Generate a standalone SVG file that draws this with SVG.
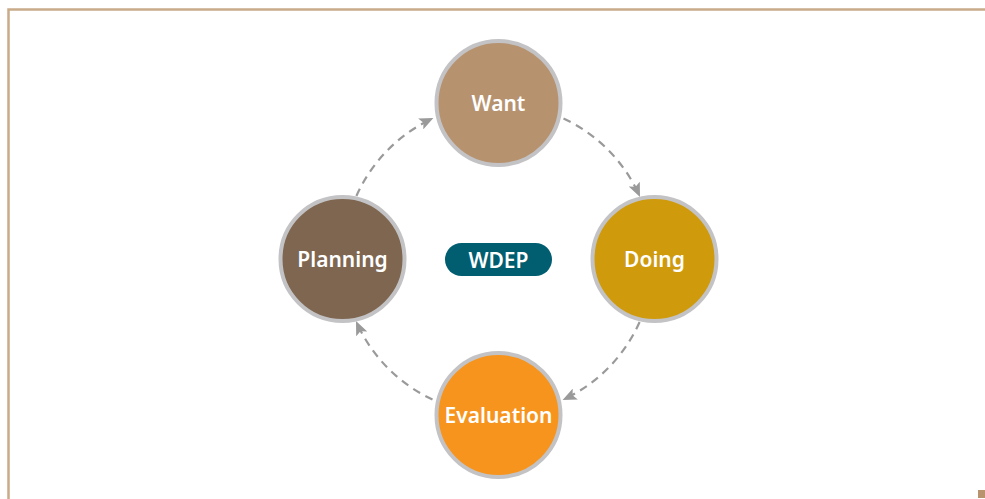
<svg xmlns="http://www.w3.org/2000/svg" width="985" height="499" viewBox="0 0 985 499">
<style>
.frame{fill:none;stroke:#c9ab8a;stroke-width:2.5}
.node{stroke:#c3c3c5;stroke-width:4}
.lbl{fill:#ffffff;font-family:"Noto Sans","Open Sans",sans-serif;font-weight:600;font-size:21px;text-anchor:middle;dominant-baseline:central}
.edge{fill:none;stroke:#9a9a9a;stroke-width:2.2;stroke-dasharray:8 6;marker-end:url(#ah)}
</style>
<defs>
<marker id="ah" viewBox="0 0 14 12" refX="13" refY="6" markerWidth="14" markerHeight="12" markerUnits="userSpaceOnUse" orient="auto">
<path d="M0,0 L14,6 L0,12 L3,6 Z" fill="#9a9a9a"/>
</marker>
</defs>
<rect width="985" height="499" fill="#ffffff"/>
<path class="frame" d="M8.5,499 V9.5 H985"/>
<rect x="978" y="490" width="7" height="8" fill="#b9926e"/>
<g id="connectors">
<path class="edge" d="M563.5,118.5 A155,155 0 0 1 639.6,196"/>
<path class="edge" d="M639.6,322 A155,155 0 0 1 563.5,399.5"/>
<path class="edge" d="M432.5,399.5 A155,155 0 0 1 356.4,322"/>
<path class="edge" d="M356.4,196 A155,155 0 0 1 432.5,118.5"/>
</g>
<g id="want"><circle class="node" cx="498.5" cy="103" r="62" fill="#b6926f"/><text class="lbl" x="498.5" y="103">Want</text></g>
<g id="doing"><circle class="node" cx="654.5" cy="259" r="62" fill="#cf9a0c"/><text class="lbl" x="654.5" y="259">Doing</text></g>
<g id="evaluation"><circle class="node" cx="498.5" cy="415" r="62" fill="#f7941d"/><text class="lbl" x="498.5" y="415">Evaluation</text></g>
<g id="planning"><circle class="node" cx="342.5" cy="259" r="62" fill="#7e6650"/><text class="lbl" x="342.5" y="259">Planning</text></g>
<g id="wdep"><rect x="445" y="243" width="107" height="33" rx="16.5" fill="#015d70"/><text class="lbl" x="498.5" y="259.5">WDEP</text></g>
</svg>
